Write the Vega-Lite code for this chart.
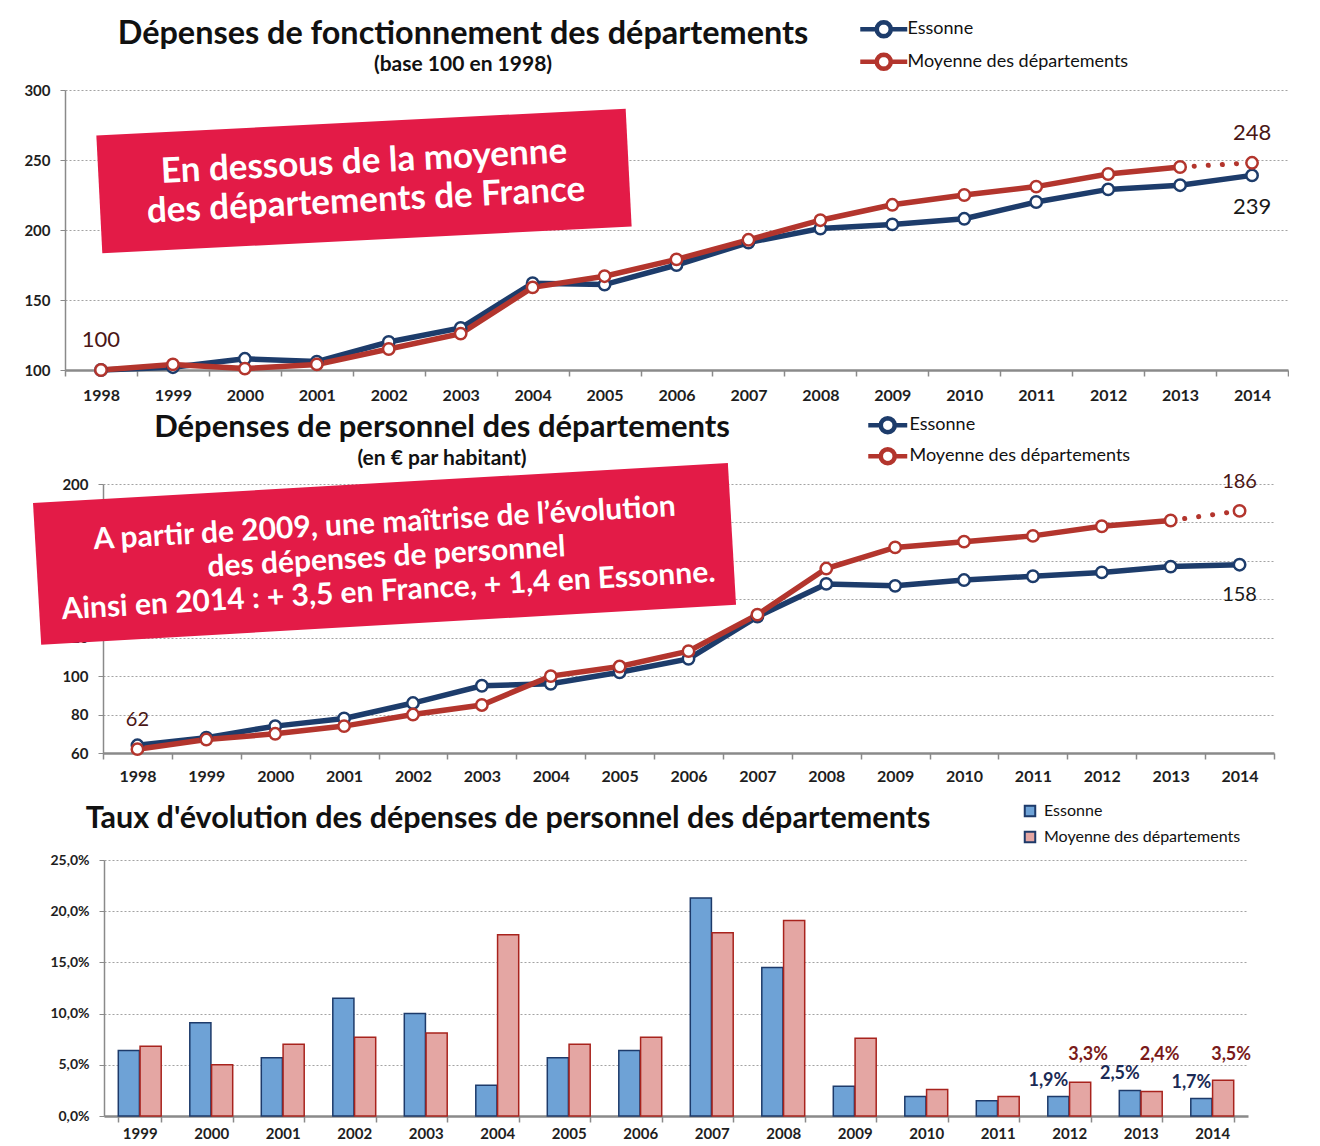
{
  "$schema": "https://vega.github.io/schema/vega-lite/v6.json",
  "padding": 0,
  "spacing": 0,
  "resolve": {"scale": {"stroke": "independent", "fill": "independent", "x": "independent", "y": "independent"}, "legend": {"stroke": "independent", "fill": "independent"}},
  "config": {
    "font": "Lato",
    "locale": {"number": {"decimal": ",", "thousands": " ", "grouping": [3], "currency": ["", " €"]}},
    "view": {"stroke": null},
    "axis": {"labelFont": "Lato", "labelFontWeight": "bold", "labelColor": "#1e1e1e", "domainColor": "#8a8a8a", "tickColor": "#8a8a8a", "gridColor": "#a3a3a3", "gridDash": [2, 2], "gridWidth": 1},
    "legend": {"labelFont": "Lato", "labelColor": "#111111", "padding": 0, "labelLimit": 400},
    "title": {"font": "Lato", "color": "#111111", "fontWeight": "bold", "subtitleFont": "Lato", "subtitleColor": "#111111", "subtitleFontWeight": "bold"}
  },
  "datasets": {
    "fonct": [
      {"series": "Essonne", "year": 1998, "value": 100},
      {"series": "Essonne", "year": 1999, "value": 102},
      {"series": "Essonne", "year": 2000, "value": 108},
      {"series": "Essonne", "year": 2001, "value": 106},
      {"series": "Essonne", "year": 2002, "value": 120},
      {"series": "Essonne", "year": 2003, "value": 130},
      {"series": "Essonne", "year": 2004, "value": 162},
      {"series": "Essonne", "year": 2005, "value": 161},
      {"series": "Essonne", "year": 2006, "value": 175},
      {"series": "Essonne", "year": 2007, "value": 191},
      {"series": "Essonne", "year": 2008, "value": 201},
      {"series": "Essonne", "year": 2009, "value": 204},
      {"series": "Essonne", "year": 2010, "value": 208},
      {"series": "Essonne", "year": 2011, "value": 220},
      {"series": "Essonne", "year": 2012, "value": 229},
      {"series": "Essonne", "year": 2013, "value": 232},
      {"series": "Essonne", "year": 2014, "value": 239},
      {"series": "Moyenne des départements", "year": 1998, "value": 100},
      {"series": "Moyenne des départements", "year": 1999, "value": 104},
      {"series": "Moyenne des départements", "year": 2000, "value": 101},
      {"series": "Moyenne des départements", "year": 2001, "value": 104},
      {"series": "Moyenne des départements", "year": 2002, "value": 115},
      {"series": "Moyenne des départements", "year": 2003, "value": 126},
      {"series": "Moyenne des départements", "year": 2004, "value": 159},
      {"series": "Moyenne des départements", "year": 2005, "value": 167},
      {"series": "Moyenne des départements", "year": 2006, "value": 179},
      {"series": "Moyenne des départements", "year": 2007, "value": 193},
      {"series": "Moyenne des départements", "year": 2008, "value": 207},
      {"series": "Moyenne des départements", "year": 2009, "value": 218},
      {"series": "Moyenne des départements", "year": 2010, "value": 225},
      {"series": "Moyenne des départements", "year": 2011, "value": 231},
      {"series": "Moyenne des départements", "year": 2012, "value": 240},
      {"series": "Moyenne des départements", "year": 2013, "value": 245},
      {"series": "Moyenne des départements", "year": 2014, "value": 248}
    ],
    "perso": [
      {"series": "Essonne", "year": 1998, "value": 64},
      {"series": "Essonne", "year": 1999, "value": 68},
      {"series": "Essonne", "year": 2000, "value": 74},
      {"series": "Essonne", "year": 2001, "value": 78},
      {"series": "Essonne", "year": 2002, "value": 86},
      {"series": "Essonne", "year": 2003, "value": 95},
      {"series": "Essonne", "year": 2004, "value": 96},
      {"series": "Essonne", "year": 2005, "value": 102},
      {"series": "Essonne", "year": 2006, "value": 109},
      {"series": "Essonne", "year": 2007, "value": 131},
      {"series": "Essonne", "year": 2008, "value": 148},
      {"series": "Essonne", "year": 2009, "value": 147},
      {"series": "Essonne", "year": 2010, "value": 150},
      {"series": "Essonne", "year": 2011, "value": 152},
      {"series": "Essonne", "year": 2012, "value": 154},
      {"series": "Essonne", "year": 2013, "value": 157},
      {"series": "Essonne", "year": 2014, "value": 158},
      {"series": "Moyenne des départements", "year": 1998, "value": 62},
      {"series": "Moyenne des départements", "year": 1999, "value": 67},
      {"series": "Moyenne des départements", "year": 2000, "value": 70},
      {"series": "Moyenne des départements", "year": 2001, "value": 74},
      {"series": "Moyenne des départements", "year": 2002, "value": 80},
      {"series": "Moyenne des départements", "year": 2003, "value": 85},
      {"series": "Moyenne des départements", "year": 2004, "value": 100},
      {"series": "Moyenne des départements", "year": 2005, "value": 105},
      {"series": "Moyenne des départements", "year": 2006, "value": 113},
      {"series": "Moyenne des départements", "year": 2007, "value": 132},
      {"series": "Moyenne des départements", "year": 2008, "value": 156},
      {"series": "Moyenne des départements", "year": 2009, "value": 167},
      {"series": "Moyenne des départements", "year": 2010, "value": 170},
      {"series": "Moyenne des départements", "year": 2011, "value": 173},
      {"series": "Moyenne des départements", "year": 2012, "value": 178},
      {"series": "Moyenne des départements", "year": 2013, "value": 181},
      {"series": "Moyenne des départements", "year": 2014, "value": 186}
    ],
    "taux": [
      {"series": "Essonne", "year": 1999, "value": 0.064},
      {"series": "Essonne", "year": 2000, "value": 0.091},
      {"series": "Essonne", "year": 2001, "value": 0.057},
      {"series": "Essonne", "year": 2002, "value": 0.115},
      {"series": "Essonne", "year": 2003, "value": 0.100},
      {"series": "Essonne", "year": 2004, "value": 0.030},
      {"series": "Essonne", "year": 2005, "value": 0.057},
      {"series": "Essonne", "year": 2006, "value": 0.064},
      {"series": "Essonne", "year": 2007, "value": 0.213},
      {"series": "Essonne", "year": 2008, "value": 0.145},
      {"series": "Essonne", "year": 2009, "value": 0.029},
      {"series": "Essonne", "year": 2010, "value": 0.019},
      {"series": "Essonne", "year": 2011, "value": 0.015},
      {"series": "Essonne", "year": 2012, "value": 0.019},
      {"series": "Essonne", "year": 2013, "value": 0.025},
      {"series": "Essonne", "year": 2014, "value": 0.017},
      {"series": "Moyenne des départements", "year": 1999, "value": 0.068},
      {"series": "Moyenne des départements", "year": 2000, "value": 0.050},
      {"series": "Moyenne des départements", "year": 2001, "value": 0.070},
      {"series": "Moyenne des départements", "year": 2002, "value": 0.077},
      {"series": "Moyenne des départements", "year": 2003, "value": 0.081},
      {"series": "Moyenne des départements", "year": 2004, "value": 0.177},
      {"series": "Moyenne des départements", "year": 2005, "value": 0.070},
      {"series": "Moyenne des départements", "year": 2006, "value": 0.077},
      {"series": "Moyenne des départements", "year": 2007, "value": 0.179},
      {"series": "Moyenne des départements", "year": 2008, "value": 0.191},
      {"series": "Moyenne des départements", "year": 2009, "value": 0.076},
      {"series": "Moyenne des départements", "year": 2010, "value": 0.026},
      {"series": "Moyenne des départements", "year": 2011, "value": 0.019},
      {"series": "Moyenne des départements", "year": 2012, "value": 0.033},
      {"series": "Moyenne des départements", "year": 2013, "value": 0.024},
      {"series": "Moyenne des départements", "year": 2014, "value": 0.035}
    ]
  },
  "vconcat": [
    {
      "width": 1223,
      "height": 280,
      "title": {"text": "Dépenses de fonctionnement des départements", "subtitle": "(base 100 en 1998)", "anchor": "start", "align": "center", "frame": "group", "dx": 398, "offset": -75, "fontSize": 32.4, "subtitleFontSize": 21, "subtitlePadding": 4},
      "data": {"name": "fonct"},
      "encoding": {
        "x": {"field": "year", "type": "ordinal", "bandPosition": 0.5, "scale": {"type": "band", "paddingInner": 0, "paddingOuter": 0},
          "axis": {"title": ".", "titleOpacity": 0, "titleFontSize": 10, "titleX": 0, "titleY": -370, "titleAlign": "left", "titleBaseline": "top", "labelAngle": 0, "labelFontSize": 16, "labelPadding": 11, "tickBand": "extent", "tickSize": 6, "tickWidth": 1.5, "domainWidth": 2.5, "grid": false}},
        "y": {"field": "value", "type": "quantitative", "scale": {"domain": [100, 300], "nice": false, "zero": false},
          "axis": {"title": ".", "titleOpacity": 0, "titleFontSize": 10, "titleX": -65, "titleY": 140, "titleAngle": 0, "titleAlign": "left", "titleBaseline": "middle", "values": [100, 150, 200, 250, 300], "labelFontSize": 15, "labelPadding": 10, "tickSize": 5, "domainWidth": 1.5, "grid": true}}
      },
      "layer": [
        {"transform": [{"filter": "!(datum.series == 'Moyenne des départements' && datum.year == 2014)"}],
          "mark": {"type": "line", "strokeWidth": 5.5},
          "encoding": {"stroke": {"field": "series", "type": "nominal", "scale": {"domain": ["Essonne", "Moyenne des départements"], "range": ["#1d3c6b", "#b3352d"]},
            "legend": {"orient": "none", "legendX": 804.75, "legendY": -74.75, "title": null, "direction": "vertical", "symbolType": "M-2,0H-0.6M0.6,0H2M0.6,0L0.554,0.23L0.424,0.424L0.23,0.554L0,0.6L-0.23,0.554L-0.424,0.424L-0.554,0.23L-0.6,0L-0.554,-0.23L-0.424,-0.424L-0.23,-0.554L0,-0.6L0.23,-0.554L0.424,-0.424L0.554,-0.23Z", "symbolSize": 552, "symbolStrokeWidth": 4.5, "symbolFillColor": "white", "labelFontSize": 18, "labelOffset": 9.75, "rowPadding": -1.5, "padding": 0, "labelLimit": 400, "encode": {"symbols": {"update": {"fill": {"value": "white"}, "opacity": {"value": 1}}}}}}}},
        {"transform": [{"filter": "datum.series == 'Moyenne des départements' && datum.year >= 2013"}],
          "mark": {"type": "line", "strokeWidth": 5, "strokeDash": [0.1, 14], "strokeCap": "round"},
          "encoding": {"stroke": {"field": "series", "type": "nominal"}}},
        {"mark": {"type": "point", "filled": true, "fill": "white", "size": 130, "strokeWidth": 2.5, "opacity": 1},
          "encoding": {"stroke": {"field": "series", "type": "nominal"}}},
        {"transform": [{"filter": "datum.series == 'Moyenne des départements' && (datum.year == 1998 || datum.year == 2014)"}],
          "mark": {"type": "text", "dy": -30, "fontSize": 22, "color": "#4a1616"},
          "encoding": {"text": {"field": "value", "type": "quantitative", "format": "d"}}},
        {"transform": [{"filter": "datum.series == 'Essonne' && datum.year == 2014"}],
          "mark": {"type": "text", "dy": 32, "fontSize": 22, "color": "#1a1a1a"},
          "encoding": {"text": {"field": "value", "type": "quantitative", "format": "d"}}},
        {"transform": [{"filter": "datum.series == 'Essonne' && datum.year == 2002"}],
          "mark": {"type": "point", "shape": "M-1,-0.2226L1,-0.2226L1,0.2226L-1,0.2226Z", "size": 280900, "angle": 357.1, "filled": true, "fill": "#e31b47", "opacity": 1, "strokeWidth": 0},
          "encoding": {"x": {"field": "year", "type": "ordinal", "bandPosition": 0.156}, "y": {"datum": 235, "type": "quantitative"}}},
        {"transform": [{"filter": "datum.series == 'Essonne' && datum.year == 2002"}],
          "mark": {"type": "text", "angle": 357.1, "align": "center", "baseline": "middle", "fontSize": 35, "fontWeight": "bold", "color": "white", "lineHeight": 39},
          "encoding": {"x": {"field": "year", "type": "ordinal", "bandPosition": 0.156}, "y": {"datum": 248.8, "type": "quantitative"}, "text": {"value": ["En dessous de la moyenne", "des départements de France"]}}}
      ]
    },
    {
      "width": 1209,
      "height": 269,
      "title": {"text": "Dépenses de personnel des départements", "subtitle": "(en € par habitant)", "anchor": "start", "align": "center", "frame": "group", "dx": 377, "offset": -67, "fontSize": 31, "subtitleFontSize": 21, "subtitlePadding": 4},
      "data": {"name": "perso"},
      "encoding": {
        "x": {"field": "year", "type": "ordinal", "bandPosition": 0.5, "scale": {"type": "band", "paddingInner": 0, "paddingOuter": 0, "range": [38, 1209]},
          "axis": {"title": ".", "titleOpacity": 0, "titleFontSize": 10, "titleX": 0, "titleY": -350, "titleAlign": "left", "titleBaseline": "top", "labelAngle": 0, "labelFontSize": 16, "labelPadding": 9, "tickBand": "extent", "tickSize": 6, "tickWidth": 1.5, "domainWidth": 2.5, "grid": false}},
        "y": {"field": "value", "type": "quantitative", "scale": {"domain": [60, 200], "nice": false, "zero": false},
          "axis": {"offset": -38, "title": ".", "titleOpacity": 0, "titleFontSize": 10, "titleX": -103, "titleY": 130, "titleAngle": 0, "titleAlign": "left", "titleBaseline": "middle", "values": [60, 80, 100, 120, 140, 160, 180, 200], "labelFontSize": 15, "labelPadding": 10, "tickSize": 5, "domainWidth": 1.5, "grid": true}}
      },
      "layer": [
        {"transform": [{"filter": "!(datum.series == 'Moyenne des départements' && datum.year == 2014)"}],
          "mark": {"type": "line", "strokeWidth": 5.5},
          "encoding": {"stroke": {"field": "series", "type": "nominal", "scale": {"domain": ["Essonne", "Moyenne des départements"], "range": ["#1d3c6b", "#b3352d"]},
            "legend": {"orient": "none", "legendX": 810.75, "legendY": -70.75, "title": null, "direction": "vertical", "symbolType": "M-2,0H-0.72M0.72,0H2M0.72,0L0.665,0.276L0.509,0.509L0.276,0.665L0,0.72L-0.276,0.665L-0.509,0.509L-0.665,0.276L-0.72,0L-0.665,-0.276L-0.509,-0.509L-0.276,-0.665L0,-0.72L0.276,-0.665L0.509,-0.509L0.665,-0.276Z", "symbolSize": 380, "symbolStrokeWidth": 4.5, "symbolFillColor": "white", "labelFontSize": 18, "labelOffset": 9.75, "rowPadding": -3, "padding": 0, "labelLimit": 400, "encode": {"symbols": {"update": {"fill": {"value": "white"}, "opacity": {"value": 1}}}}}}}},
        {"transform": [{"filter": "datum.series == 'Moyenne des départements' && datum.year >= 2013"}],
          "mark": {"type": "line", "strokeWidth": 5, "strokeDash": [0.1, 14], "strokeCap": "round"},
          "encoding": {"stroke": {"field": "series", "type": "nominal"}}},
        {"mark": {"type": "point", "filled": true, "fill": "white", "size": 130, "strokeWidth": 2.5, "opacity": 1},
          "encoding": {"stroke": {"field": "series", "type": "nominal"}}},
        {"transform": [{"filter": "datum.series == 'Moyenne des départements' && (datum.year == 1998 || datum.year == 2014)"}],
          "mark": {"type": "text", "dy": -29, "fontSize": 20, "color": "#4a1616"},
          "encoding": {"text": {"field": "value", "type": "quantitative", "format": "d"}}},
        {"transform": [{"filter": "datum.series == 'Essonne' && datum.year == 2014"}],
          "mark": {"type": "text", "dy": 30, "fontSize": 20, "color": "#1a1a1a"},
          "encoding": {"text": {"field": "value", "type": "quantitative", "format": "d"}}},
        {"transform": [{"filter": "datum.series == 'Essonne' && datum.year == 2002"}],
          "mark": {"type": "point", "shape": "M-1,-0.204L1,-0.204L1,0.204L-1,0.204Z", "size": 484416, "angle": 356.7, "filled": true, "fill": "#e31b47", "opacity": 1, "strokeWidth": 0},
          "encoding": {"x": {"field": "year", "type": "ordinal", "bandPosition": 0.087}, "y": {"datum": 163.6, "type": "quantitative"}}},
        {"transform": [{"filter": "datum.series == 'Essonne' && datum.year == 2002"}],
          "mark": {"type": "text", "angle": 356.7, "align": "center", "baseline": "middle", "fontSize": 30, "fontWeight": "bold", "color": "white", "lineHeight": 34},
          "encoding": {"x": {"field": "year", "type": "ordinal", "bandPosition": 0.087}, "y": {"datum": 179.4, "type": "quantitative"}, "text": {"value": ["A partir de 2009, une maîtrise de l’évolution", "des dépenses de personnel", "Ainsi en 2014 : + 3,5 en France, + 1,4 en Essonne."]}}}
      ]
    },
    {
      "width": 1183,
      "height": 256,
      "title": {"text": "Taux d'évolution des dépenses de personnel des départements", "anchor": "start", "align": "center", "frame": "group", "dx": 443, "offset": -50, "fontSize": 30.5},
      "data": {"name": "taux"},
      "encoding": {
        "x": {"field": "year", "type": "ordinal", "scale": {"paddingInner": 0.4, "paddingOuter": 0.2, "range": [39, 1183]},
          "axis": {"title": ".", "titleOpacity": 0, "titleFontSize": 10, "titleX": 0, "titleY": -332, "titleAlign": "left", "titleBaseline": "top", "labelAngle": 0, "labelFontSize": 15, "labelPadding": 4, "tickBand": "extent", "tickSize": 6, "tickWidth": 1.5, "domainWidth": 2.5, "grid": false}},
        "y": {"field": "value", "type": "quantitative", "scale": {"domain": [0, 0.25], "nice": false},
          "axis": {"offset": -39, "title": ".", "titleOpacity": 0, "titleFontSize": 10, "titleX": -104, "titleY": 120, "titleAngle": 0, "titleAlign": "left", "titleBaseline": "middle", "values": [0, 0.05, 0.1, 0.15, 0.2, 0.25], "format": ".1%", "labelFontSize": 14, "labelPadding": 10, "tickSize": 5, "domainWidth": 1.5, "grid": true}},
        "xOffset": {"field": "series", "type": "nominal", "scale": {"domain": ["Essonne", "Moyenne des départements"], "paddingInner": 0.03, "paddingOuter": 0}}
      },
      "layer": [
        {"transform": [{"filter": "datum.series == 'Essonne'"}],
          "mark": {"type": "bar", "strokeWidth": 1.5, "stroke": "#1d3a6a"},
          "encoding": {
            "fill": {"field": "series", "type": "nominal", "scale": {"domain": ["Essonne", "Moyenne des départements"], "range": ["#6ea2d6", "#e4a6a3"]},
              "legend": {"orient": "none", "legendX": 957, "legendY": -57, "title": null, "direction": "vertical", "symbolType": "square", "symbolSize": 110, "symbolStrokeWidth": 2, "labelFontSize": 16, "labelOffset": 6, "rowPadding": 6, "padding": 0, "labelLimit": 400,
                "encode": {"symbols": {"update": {"stroke": {"signal": "datum.value == 'Essonne' ? '#1d3a6a' : '#a8231d'"}, "strokeWidth": {"value": 2}}}}}}
          }},
        {"transform": [{"filter": "datum.series == 'Moyenne des départements'"}],
          "mark": {"type": "bar", "strokeWidth": 1.5, "stroke": "#a8231d"},
          "encoding": {"fill": {"field": "series", "type": "nominal"}}},
        {"transform": [{"filter": "datum.series == 'Essonne' && datum.year >= 2012"}],
          "mark": {"type": "text", "dx": -10, "dy": -16, "fontSize": 18, "fontWeight": "bold", "color": "#1b2a55"},
          "encoding": {"text": {"field": "value", "type": "quantitative", "format": ".1%"}}},
        {"transform": [{"filter": "datum.series == 'Moyenne des départements' && datum.year >= 2012"}],
          "mark": {"type": "text", "dx": 8, "fontSize": 18, "fontWeight": "bold", "color": "#7a1a1a"},
          "encoding": {"y": {"datum": 0.06, "type": "quantitative"}, "text": {"field": "value", "type": "quantitative", "format": ".1%"}}}
      ]
    }
  ]
}
